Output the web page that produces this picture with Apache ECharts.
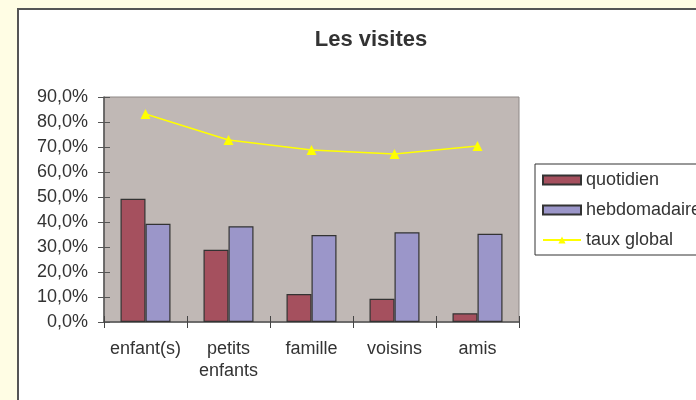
<!DOCTYPE html>
<html>
<head>
<meta charset="utf-8">
<script src="https://cdn.jsdelivr.net/npm/echarts@6/dist/echarts.min.js"></script>
<style>
  html, body { margin: 0; padding: 0; background: #FFFDE4; }
  #chart { width: 696px; height: 400px; }
</style>
</head>
<body>
<div id="chart"></div>
<script>
// Les visites - valeurs en %
var categories = ['enfant(s)', 'petits\nenfants', 'famille', 'voisins', 'amis'];
var quotidien  = [49.3, 28.9, 11.2, 9.3, 3.5];
var hebdo      = [39.3, 38.3, 34.8, 35.9, 35.3];
var tauxGlobal = [83.2, 72.8, 68.8, 67.2, 70.4];
var yTicks     = { min: 0, max: 90, interval: 10 };

var font = 'Liberation Sans';
var txt = '#333';

function pct(v) {
    return v.toFixed(1).replace('.', ',') + '%';
}

var chart = echarts.init(document.getElementById('chart'), null, { renderer: 'canvas' });

var option = {
    backgroundColor: '#FFFDE4',
    animation: false,
    textStyle: { fontFamily: font },
    graphic: [{
        type: 'rect',
        z: -10,
        shape: { x: 18, y: 9, width: 720, height: 420 },
        style: { fill: '#fff', stroke: '#555', lineWidth: 2 }
    }],
    title: {
        text: 'Les visites',
        left: 366, top: 24,
        textAlign: 'center',
        textStyle: { fontFamily: font, fontSize: 22, fontWeight: 'bold', color: txt }
    },
    legend: {
        orient: 'vertical',
        left: 535, top: 164,
        padding: [7, 80, 6, 7],
        borderColor: '#333', borderWidth: 1,
        itemWidth: 38, itemHeight: 9,
        itemGap: 12,
        textStyle: { fontFamily: font, fontSize: 18, color: txt },
        data: [
            { name: 'quotidien', icon: 'rect' },
            { name: 'hebdomadaire', icon: 'rect' },
            { name: 'taux global' }
        ]
    },
    grid: {
        left: 104, right: 177, top: 97, bottom: 78,
        show: true,
        backgroundColor: '#C0B8B5',
        borderColor: '#8E8886', borderWidth: 1,
        containLabel: false,
        outerBoundsMode: 'none'
    },
    xAxis: [{
        type: 'category',
        data: categories,
        axisLine: { show: true, lineStyle: { color: '#555', width: 1.5 } },
        axisTick: { show: true, alignWithLabel: false, interval: 0, length: 6, lineStyle: { color: '#444', width: 1 } },
        axisLabel: { interval: 0, fontFamily: font, fontSize: 18, color: txt, margin: 16, lineHeight: 22 }
    }, {
        type: 'category',
        data: categories,
        position: 'bottom',
        axisLine: { show: false },
        axisTick: { show: true, alignWithLabel: false, interval: 0, inside: true, length: 6, lineStyle: { color: '#444', width: 1 } },
        axisLabel: { show: false }
    }],
    yAxis: [{
        type: 'value',
        min: yTicks.min, max: yTicks.max, interval: yTicks.interval,
        axisLine: { show: true, lineStyle: { color: '#555', width: 1.5 } },
        axisTick: { show: true, length: 6, lineStyle: { color: '#555' } },
        splitLine: { show: false },
        axisLabel: { fontFamily: font, fontSize: 18, color: txt, margin: 16, formatter: pct }
    }, {
        type: 'value',
        position: 'left',
        min: yTicks.min, max: yTicks.max, interval: yTicks.interval,
        axisLine: { show: false },
        axisTick: { show: true, inside: true, length: 6, lineStyle: { color: '#555' } },
        splitLine: { show: false },
        axisLabel: { show: false }
    }],
    series: [{
        name: 'quotidien',
        type: 'bar',
        data: quotidien,
        barWidth: 25,
        barGap: '0%',
        itemStyle: { color: '#A5505E', borderColor: '#333', borderWidth: 1.2 }
    }, {
        name: 'hebdomadaire',
        type: 'bar',
        data: hebdo,
        barWidth: 25,
        barGap: '0%',
        itemStyle: { color: '#9B96C9', borderColor: '#333', borderWidth: 1.2 }
    }, {
        name: 'taux global',
        type: 'line',
        data: tauxGlobal,
        symbol: 'triangle',
        symbolSize: 10,
        lineStyle: { color: '#FFFF00', width: 1.5 },
        itemStyle: { color: '#FFFF00' }
    }]
};

chart.setOption(option);
</script>
</body>
</html>
